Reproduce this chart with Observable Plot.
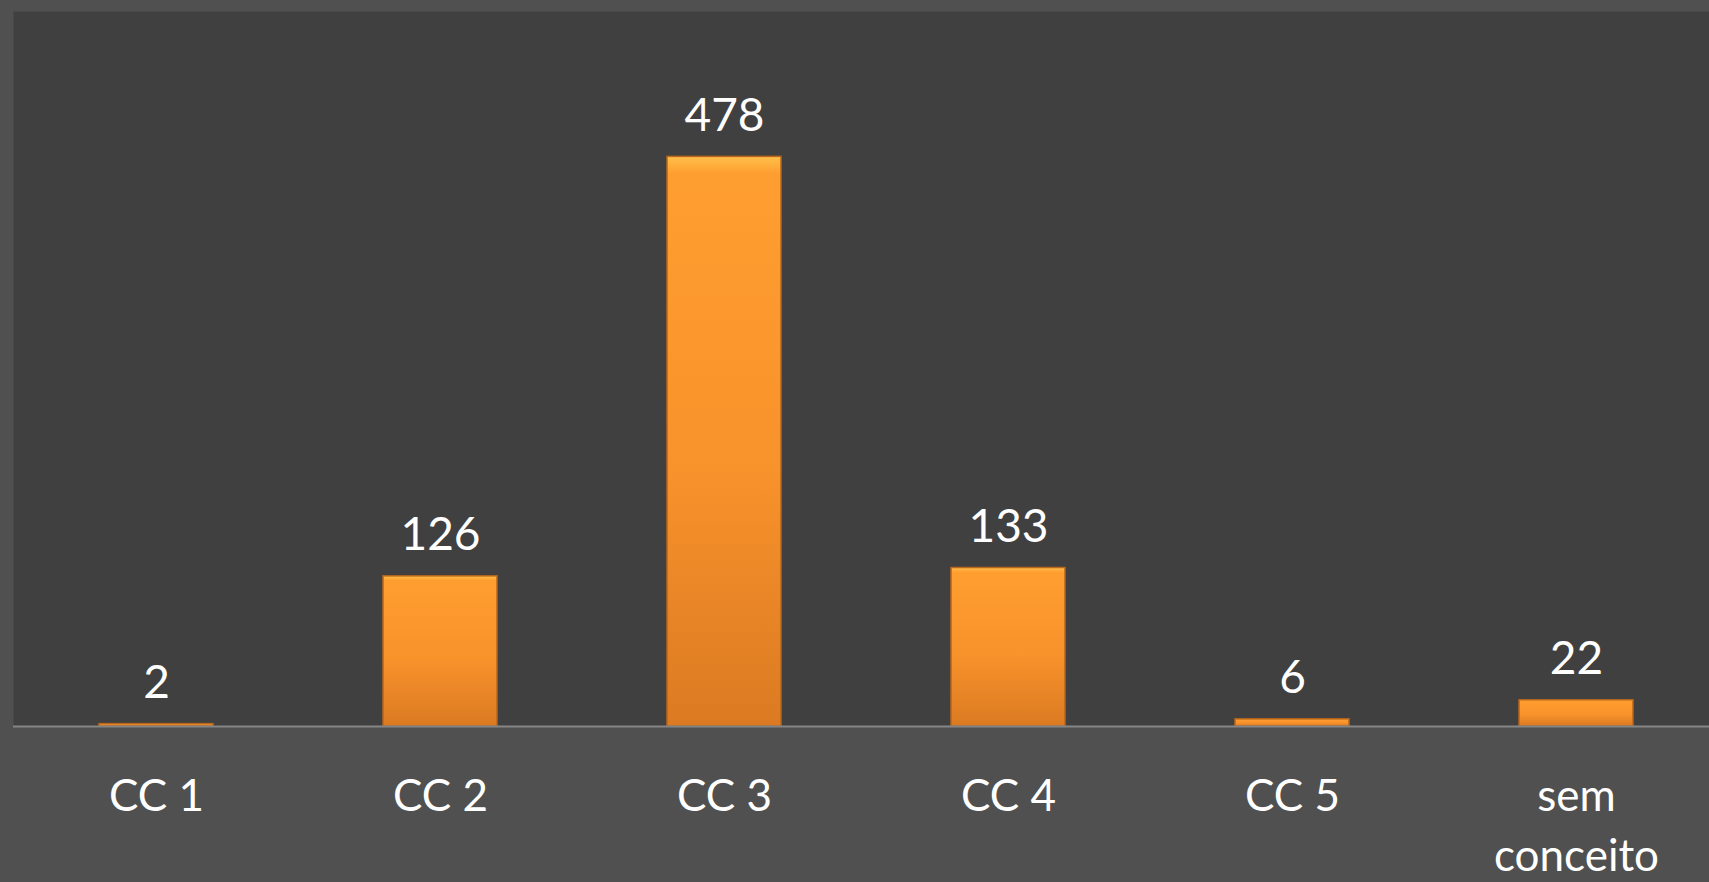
<!DOCTYPE html>
<html>
<head>
<meta charset="utf-8">
<script src="https://cdn.jsdelivr.net/npm/d3@7"></script>
<script src="https://cdn.jsdelivr.net/npm/@observablehq/plot@0.6"></script>
<style>
  html, body { margin: 0; padding: 0; background: #505050; overflow: hidden; }
  #chart svg { display: block; }
</style>
</head>
<body>
<div id="chart"></div>
<script>
const categories = ["CC 1", "CC 2", "CC 3", "CC 4", "CC 5", "sem conceito"];
const tickLabels = ["CC 1", "CC 2", "CC 3", "CC 4", "CC 5", "sem\nconceito"];
const values = [2, 126, 478, 133, 6, 22];

const data = categories.map((c, i) => ({category: c, value: values[i]}));
const labelOf = new Map(categories.map((c, i) => [c, tickLabels[i]]));

const chart = Plot.plot({
  width: 1709,
  height: 882,
  marginTop: 11,
  marginLeft: 13,
  marginRight: 0,
  marginBottom: 156,
  style: {background: "#505050", color: "#ffffff", fontFamily: "Lato, 'Open Sans', sans-serif"},
  x: {domain: categories, range: [12, 1720], paddingInner: 0.6, paddingOuter: 0.3, label: null},
  y: {domain: [0, 600], label: null, axis: null},
  marks: [
    Plot.frame({fill: "#404040", stroke: null}),
    Plot.barY(data, {x: "category", y: "value", fill: "url(#barGrad)", stroke: "#b8661c", strokeWidth: 1.5}),
    Plot.ruleY([0], {stroke: "#858585", strokeWidth: 2}),
    Plot.text(data, {x: "category", y: "value", text: d => String(d.value), fill: "#ffffff", fontSize: 46, lineAnchor: "bottom", dy: -26}),
    Plot.axisX({tickSize: 0, tickPadding: 42, fontSize: 44, lineHeight: 1.36, tickFormat: d => labelOf.get(d), fill: "#ffffff", label: null}),
  ]
});

const defs = d3.select(chart).insert("defs", ":first-child");
const g = defs.append("linearGradient").attr("id", "barGrad").attr("x1", 0).attr("y1", 0).attr("x2", 0).attr("y2", 1);
g.append("stop").attr("offset", "0%").attr("stop-color", "#ffc04a");
g.append("stop").attr("offset", "3%").attr("stop-color", "#ff9e30");
g.append("stop").attr("offset", "55%").attr("stop-color", "#f8922b");
g.append("stop").attr("offset", "100%").attr("stop-color", "#db7a22");

document.getElementById("chart").appendChild(chart);
</script>
</body>
</html>
